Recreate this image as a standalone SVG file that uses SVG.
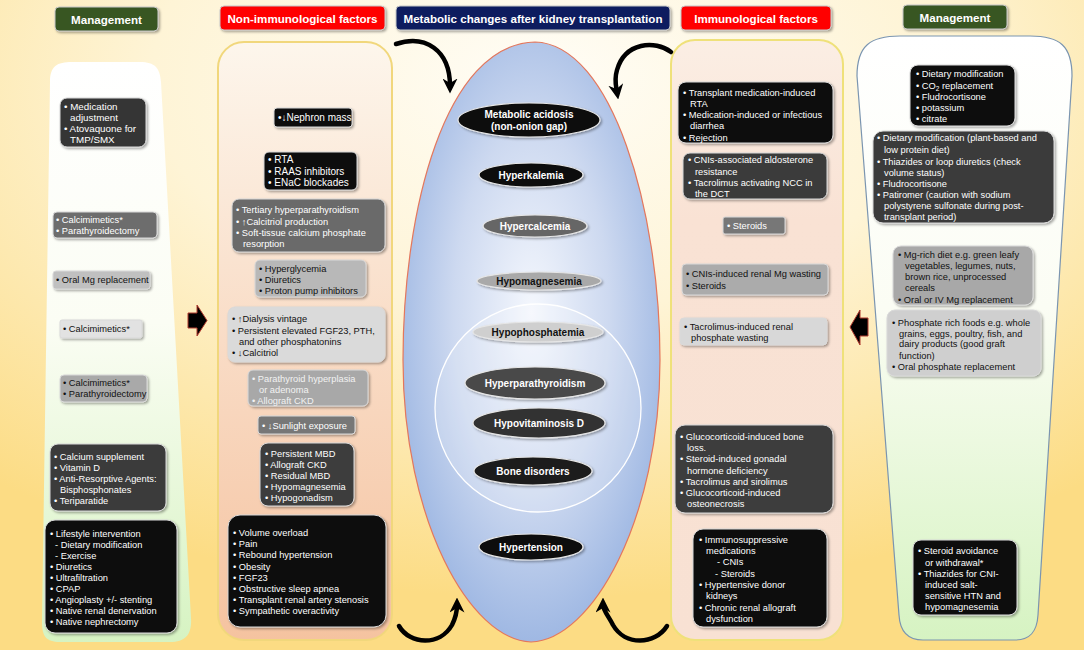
<svg xmlns="http://www.w3.org/2000/svg" width="1084" height="650" viewBox="0 0 1084 650">
<defs>
<radialGradient id="bg" cx="50%" cy="12%" r="80%">
<stop offset="0" stop-color="#fffdf6"/><stop offset="0.45" stop-color="#fef4d6"/><stop offset="1" stop-color="#fcdc84"/>
</radialGradient>
<linearGradient id="mgmt" x1="0" y1="0" x2="0" y2="1">
<stop offset="0" stop-color="#ffffff"/><stop offset="0.45" stop-color="#fbfdf4"/><stop offset="1" stop-color="#d6f3c2"/>
</linearGradient>
<linearGradient id="nonimm" x1="0" y1="0" x2="0" y2="1">
<stop offset="0" stop-color="#fdf6ec"/><stop offset="0.5" stop-color="#f9dcc6"/><stop offset="1" stop-color="#f5c3a0"/>
</linearGradient>
<linearGradient id="imm" x1="0" y1="0" x2="0" y2="1">
<stop offset="0" stop-color="#fbeee4"/><stop offset="0.3" stop-color="#f9e2d4"/><stop offset="1" stop-color="#f8e1d3"/>
</linearGradient>
<radialGradient id="egg" cx="50%" cy="45%" r="55%">
<stop offset="0" stop-color="#f4f7fd"/><stop offset="0.55" stop-color="#cdd9f0"/><stop offset="1" stop-color="#9fb8e3"/>
</radialGradient>
<filter id="sh" x="-10%" y="-10%" width="130%" height="140%">
<feDropShadow dx="1.5" dy="1.5" stdDeviation="1" flood-color="#000" flood-opacity="0.35"/>
</filter>
<marker id="ah" viewBox="0 0 10 10" refX="5" refY="5" markerWidth="15" markerHeight="15" markerUnits="userSpaceOnUse" orient="auto">
<path d="M0,0 L10,5 L0,10 L3,5 Z" fill="#000"/>
</marker>
<style>
text{font-family:"Liberation Sans",Arial,sans-serif;font-size:9.3px}
.w{fill:#fff}
.d{fill:#111}
.lt{fill:#f2f2f2}
.hd{font-size:11.6px;font-weight:bold;fill:#fff;text-anchor:middle}
.el{font-size:10px;font-weight:bold;text-anchor:middle}
.bx{stroke:#d9d9d9;stroke-width:1;filter:url(#sh)}
.hb{stroke:#c8c8c8;stroke-width:1;filter:url(#sh)}
.ell{stroke:#e6e6e6;stroke-width:1.2;filter:url(#sh)}
.ca{fill:none;stroke:#000;stroke-width:4.5;stroke-linecap:round;marker-end:url(#ah)}
.cr{fill:none;stroke:#9a2020;stroke-width:5.5;stroke-linecap:round}
.ba{fill:#000;stroke:#b03a2e;stroke-width:1}
</style>
</defs>
<rect x="0" y="0" width="1084" height="650" fill="url(#bg)"/>

<!-- Headers -->
<g id="hdr-mgmt-left"><rect class="hb" x="55" y="7" width="103" height="24" rx="4" fill="#385723"/><text class="hd" x="106.5" y="23.5">Management</text></g>
<g id="hdr-nonimm"><rect class="hb" x="220" y="6" width="165" height="24" rx="4" fill="#ff0000"/><text class="hd" x="302.5" y="22.5">Non-immunological factors</text></g>
<g id="hdr-metabolic"><rect class="hb" x="396" y="6" width="274" height="24" rx="4" fill="#0b1f5e"/><text class="hd" x="533" y="22.5">Metabolic changes after kidney transplantation</text></g>
<g id="hdr-imm"><rect class="hb" x="681" y="6" width="150" height="24" rx="4" fill="#ff0000"/><text class="hd" x="756" y="22.5">Immunological factors</text></g>
<g id="hdr-mgmt-right"><rect class="hb" x="903" y="5" width="104" height="24" rx="4" fill="#385723"/><text class="hd" x="955" y="21.5">Management</text></g>

<!-- Panels -->
<g id="panel-mgmt-left"><path d="M50,82 C50,66 57,62 72,62 L140,62 C155,62 160,68 161,82 L191,618 C192,634 186,642 170,642 L60,642 C46,642 42,636 42,622 Z" fill="url(#mgmt)"/></g>
<g id="panel-nonimm"><rect x="218" y="42" width="174" height="598" rx="26" fill="url(#nonimm)" stroke="#f1d77c" stroke-width="2"/></g>
<g id="panel-metabolic">
<path d="M535,42 C612,44 660,210 660,360 C660,520 592,640 531,642 C470,640 403,520 403,360 C403,210 445,44 535,42 Z" fill="url(#egg)" stroke="#e4775c" stroke-width="1.2"/>
<ellipse cx="538" cy="408" rx="103" ry="104" fill="#ffffff" fill-opacity="0.18" stroke="#ffffff" stroke-width="1.3"/>
</g>
<g id="panel-imm"><rect x="671" y="40" width="172" height="600" rx="24" fill="url(#imm)" stroke="#efe17a" stroke-width="2"/></g>
<g id="panel-mgmt-right"><path d="M857,76 C857,46 870,36 900,36 L1030,36 C1060,36 1072,46 1072,76 L1038,615 C1037,632 1030,640 1015,640 L923,640 C908,640 900,632 899,615 Z" fill="url(#mgmt)" stroke="#7b95b0" stroke-width="1.2"/></g>

<!-- Connectors -->
<g id="connectors">
<path class="ca" d="M396,44 C425,34 450,50 450,86"/>
<path class="ca" d="M671,52 C655,40 625,42 617,70 C614,80 616,86 617,92"/>
<path class="ca" d="M399,626 C410,645 440,646 452,625 C456,617 457,610 457,605"/>
<path class="ca" d="M667,626 C655,645 625,646 613,625 C609,617 603,610 603,605"/>
<polygon class="ba" points="188,313 197,313 197,305 207,320.5 197,336 197,328 188,328"/>
<polygon class="ba" points="850,327 860,310 860,318 868,318 868,336 860,336 860,345"/>
</g>

<!-- Left management nodes -->
<g id="m-l1"><rect class="bx" x="60" y="98" width="86" height="49" rx="7" fill="#363636"/>
<text class="w" x="64" y="110" style="font-size:9.8px">• Medication</text><text class="w" x="70" y="121" style="font-size:9.8px">adjustment</text><text class="w" x="64" y="132" style="font-size:9.8px">• Atovaquone for</text><text class="w" x="70" y="143" style="font-size:9.8px">TMP/SMX</text></g>
<g id="m-l2"><rect class="bx" x="53" y="212" width="104" height="26" rx="4" fill="#6d6d6d"/>
<text class="w" x="56" y="223">• Calcimimetics*</text><text class="w" x="56" y="234">• Parathyroidectomy</text></g>
<g id="m-l3"><rect class="bx" x="53" y="271" width="97" height="18" rx="3" fill="#c0c0c0"/>
<text class="d" x="56" y="283">• Oral Mg replacement</text></g>
<g id="m-l4"><rect class="bx" x="60" y="320" width="82" height="18" rx="2" fill="#e2e2e2"/>
<text class="d" x="63" y="332">• Calcimimetics*</text></g>
<g id="m-l5"><rect class="bx" x="60" y="375" width="87" height="27" rx="4" fill="#a9a9a9"/>
<text class="d" x="63" y="386">• Calcimimetics*</text><text class="d" x="63" y="397">• Parathyroidectomy</text></g>
<g id="m-l6"><rect class="bx" x="50" y="444" width="116" height="67" rx="8" fill="#3a3a3a"/>
<text class="w" x="54" y="460">• Calcium supplement</text><text class="w" x="54" y="471">• Vitamin D</text><text class="w" x="54" y="482">• Anti-Resorptive Agents:</text><text class="w" x="60" y="493">Bisphosphonates</text><text class="w" x="54" y="504">• Teriparatide</text></g>
<g id="m-l7"><rect class="bx" x="45" y="520" width="132" height="113" rx="10" fill="#111"/>
<text class="w" x="50" y="537">• Lifestyle intervention</text><text class="w" x="55" y="548">- Dietary modification</text><text class="w" x="55" y="559">- Exercise</text><text class="w" x="50" y="570">• Diuretics</text><text class="w" x="50" y="581">• Ultrafiltration</text><text class="w" x="50" y="592">• CPAP</text><text class="w" x="50" y="603">• Angioplasty +/- stenting</text><text class="w" x="50" y="614">• Native renal denervation</text><text class="w" x="50" y="625">• Native nephrectomy</text></g>

<!-- Non-immunological nodes -->
<g id="n-1"><rect class="bx" x="274" y="108" width="78" height="19" rx="3" fill="#0d0d0d"/>
<text class="w" x="278" y="121" style="font-size:10px">•↓Nephron mass</text></g>
<g id="n-2"><rect class="bx" x="264" y="152" width="93" height="38" rx="5" fill="#0d0d0d"/>
<text class="w" x="268" y="163" style="font-size:10px">• RTA</text><text class="w" x="268" y="175" style="font-size:10px">• RAAS inhibitors</text><text class="w" x="268" y="186" style="font-size:10px">• ENaC blockades</text></g>
<g id="n-3"><rect class="bx" x="232" y="199" width="153" height="53" rx="7" fill="#6a6a6a"/>
<text class="w" x="236" y="213">• Tertiary hyperparathyroidism</text><text class="w" x="236" y="225">• ↑Calcitriol production</text><text class="w" x="236" y="236">• Soft-tissue calcium phosphate</text><text class="w" x="243" y="247">resorption</text></g>
<g id="n-4"><rect class="bx" x="255" y="260" width="111" height="37" rx="5" fill="#b8b8b8"/>
<text class="d" x="259" y="272">• Hyperglycemia</text><text class="d" x="259" y="283">• Diuretics</text><text class="d" x="259" y="294">• Proton pump inhibitors</text></g>
<g id="n-5"><rect class="bx" x="228" y="307" width="157" height="55" rx="7" fill="#dadada"/>
<text class="d" x="232" y="322">• ↑Dialysis vintage</text><text class="d" x="232" y="334">• Persistent elevated FGF23, PTH,</text><text class="d" x="239" y="345">and other phosphatonins</text><text class="d" x="232" y="356">• ↓Calcitriol</text></g>
<g id="n-6"><rect class="bx" x="248" y="370" width="120" height="36" rx="5" fill="#a8a8a8"/>
<text class="lt" x="252" y="382">• Parathyroid hyperplasia</text><text class="lt" x="259" y="393">or adenoma</text><text class="lt" x="252" y="404">• Allograft CKD</text></g>
<g id="n-7"><rect class="bx" x="258" y="416" width="97" height="18" rx="3" fill="#777"/>
<text class="w" x="262" y="429">• ↓Sunlight exposure</text></g>
<g id="n-8"><rect class="bx" x="260" y="443" width="94" height="63" rx="8" fill="#3d3d3d"/>
<text class="w" x="265" y="457">• Persistent MBD</text><text class="w" x="265" y="468">• Allograft CKD</text><text class="w" x="265" y="479">• Residual MBD</text><text class="w" x="265" y="490">• Hypomagnesemia</text><text class="w" x="265" y="501">• Hypogonadism</text></g>
<g id="n-9"><rect class="bx" x="228" y="515" width="158" height="112" rx="12" fill="#0d0d0d"/>
<text class="w" x="233" y="536">• Volume overload</text><text class="w" x="233" y="547">• Pain</text><text class="w" x="233" y="558">• Rebound hypertension</text><text class="w" x="233" y="570">• Obesity</text><text class="w" x="233" y="581">• FGF23</text><text class="w" x="233" y="592">• Obstructive sleep apnea</text><text class="w" x="233" y="603">• Transplant renal artery stenosis</text><text class="w" x="233" y="614">• Sympathetic overactivity</text></g>

<!-- Metabolic change nodes -->
<g id="c-acidosis"><ellipse class="ell" cx="529" cy="120" rx="71" ry="17" fill="#0d0d0d"/><text class="el w" x="529" y="118">Metabolic acidosis</text><text class="el w" x="529" y="130">(non-onion gap)</text></g>
<g id="c-hyperk"><ellipse class="ell" cx="531" cy="175" rx="52" ry="12" fill="#111"/><text class="el w" x="531" y="179">Hyperkalemia</text></g>
<g id="c-hyperca"><ellipse class="ell" cx="535" cy="226" rx="52" ry="11" fill="#666"/><text class="el w" x="535" y="230">Hypercalcemia</text></g>
<g id="c-hypomg"><ellipse class="ell" cx="539" cy="281" rx="62" ry="9" fill="#a9a9a9"/><text class="el d" x="539" y="285">Hypomagnesemia</text></g>
<g id="c-hypophos"><ellipse class="ell" cx="538" cy="332" rx="65" ry="10" fill="#cfcfcf"/><text class="el d" x="538" y="336">Hypophosphatemia</text></g>
<g id="c-hyperpth"><ellipse class="ell" cx="535" cy="383" rx="70" ry="16" fill="#4a4a4a"/><text class="el w" x="535" y="387">Hyperparathyroidism</text></g>
<g id="c-hypovitd"><ellipse class="ell" cx="539" cy="423" rx="66" ry="15" fill="#333"/><text class="el w" x="539" y="427">Hypovitaminosis D</text></g>
<g id="c-bone"><ellipse class="ell" cx="533" cy="471" rx="59" ry="14" fill="#1a1a1a"/><text class="el w" x="533" y="475">Bone disorders</text></g>
<g id="c-htn"><ellipse class="ell" cx="531" cy="547" rx="52" ry="13" fill="#0d0d0d"/><text class="el w" x="531" y="551">Hypertension</text></g>

<!-- Immunological nodes -->
<g id="i-1"><rect class="bx" x="678" y="82" width="155" height="61" rx="8" fill="#0d0d0d"/>
<text class="w" x="683" y="96">• Transplant medication-induced</text><text class="w" x="690" y="107">RTA</text><text class="w" x="683" y="118">• Medication-induced or infectious</text><text class="w" x="690" y="129">diarrhea</text><text class="w" x="683" y="141">• Rejection</text></g>
<g id="i-2"><rect class="bx" x="683" y="153" width="144" height="46" rx="7" fill="#3a3a3a"/>
<text class="w" x="688" y="163">• CNIs-associated aldosterone</text><text class="w" x="695" y="175">resistance</text><text class="w" x="688" y="186">• Tacrolimus activating NCC in</text><text class="w" x="695" y="197">the DCT</text></g>
<g id="i-3"><rect class="bx" x="723" y="217" width="62" height="17" rx="2" fill="#777"/>
<text class="w" x="727" y="229">• Steroids</text></g>
<g id="i-4"><rect class="bx" x="682" y="264" width="146" height="31" rx="4" fill="#ababab"/>
<text class="d" x="686" y="277">• CNIs-induced renal Mg wasting</text><text class="d" x="686" y="289">• Steroids</text></g>
<g id="i-5"><rect class="bx" x="680" y="318" width="147" height="27" rx="4" fill="#d8d8d8"/>
<text class="d" x="684" y="330">• Tacrolimus-induced renal</text><text class="d" x="691" y="341">phosphate wasting</text></g>
<g id="i-6"><rect class="bx" x="675" y="425" width="158" height="88" rx="10" fill="#3d3d3d"/>
<text class="w" x="680" y="440">• Glucocorticoid-induced bone</text><text class="w" x="687" y="451">loss.</text><text class="w" x="680" y="462">• Steroid-induced gonadal</text><text class="w" x="687" y="474">hormone deficiency</text><text class="w" x="680" y="485">• Tacrolimus and sirolimus</text><text class="w" x="680" y="496">• Glucocorticoid-induced</text><text class="w" x="687" y="507">osteonecrosis</text></g>
<g id="i-7"><rect class="bx" x="693" y="529" width="134" height="98" rx="10" fill="#0d0d0d"/>
<text class="w" x="699" y="543">• Immunosuppressive</text><text class="w" x="706" y="554">medications</text><text class="w" x="717" y="565">- CNIs</text><text class="w" x="715" y="577">- Steroids</text><text class="w" x="699" y="588">• Hypertensive donor</text><text class="w" x="706" y="599">kidneys</text><text class="w" x="699" y="611">• Chronic renal allograft</text><text class="w" x="706" y="622">dysfunction</text></g>

<!-- Right management nodes -->
<g id="m-r1"><rect class="bx" x="910" y="65" width="105" height="61" rx="8" fill="#111"/>
<text class="w" x="916" y="77">• Dietary modification</text><text class="w" x="916" y="89">• CO<tspan dy="2" style="font-size:6.5px">2</tspan><tspan dy="-2"> replacement</tspan></text><text class="w" x="916" y="100">• Fludrocortisone</text><text class="w" x="916" y="111">• potassium</text><text class="w" x="916" y="122">• citrate</text></g>
<g id="m-r2"><rect class="bx" x="873" y="131" width="181" height="92" rx="10" fill="#3a3a3a"/>
<text class="w" x="877" y="141">• Dietary modification (plant-based and</text><text class="w" x="884" y="153">low protein diet)</text><text class="w" x="877" y="165">• Thiazides or loop diuretics (check</text><text class="w" x="884" y="176">volume status)</text><text class="w" x="877" y="187">• Fludrocortisone</text><text class="w" x="877" y="198">• Patiromer (caution with sodium</text><text class="w" x="884" y="209">polystyrene sulfonate during post-</text><text class="w" x="884" y="220">transplant period)</text></g>
<g id="m-r3"><rect class="bx" x="893" y="246" width="140" height="59" rx="8" fill="#a8a8a8"/>
<text class="d" x="898" y="258">• Mg-rich diet e.g. green leafy</text><text class="d" x="905" y="269">vegetables, legumes, nuts,</text><text class="d" x="905" y="280">brown rice, unprocessed</text><text class="d" x="905" y="291">cereals</text><text class="d" x="898" y="303">• Oral or IV Mg replacement</text></g>
<g id="m-r4"><rect class="bx" x="887" y="310" width="154" height="66" rx="8" fill="#cfcfcf"/>
<text class="d" x="892" y="326">• Phosphate rich foods e.g. whole</text><text class="d" x="899" y="337">grains, eggs, poultry, fish, and</text><text class="d" x="899" y="347">dairy products (good graft</text><text class="d" x="899" y="359">function)</text><text class="d" x="892" y="370">• Oral phosphate replacement</text></g>
<g id="m-r5"><rect class="bx" x="913" y="540" width="104" height="75" rx="8" fill="#111"/>
<text class="w" x="918" y="554">• Steroid avoidance</text><text class="w" x="925" y="566">or withdrawal*</text><text class="w" x="918" y="577">• Thiazides for CNI-</text><text class="w" x="925" y="588">induced salt-</text><text class="w" x="925" y="599">sensitive HTN and</text><text class="w" x="925" y="610">hypomagnesemia</text></g>
</svg>
